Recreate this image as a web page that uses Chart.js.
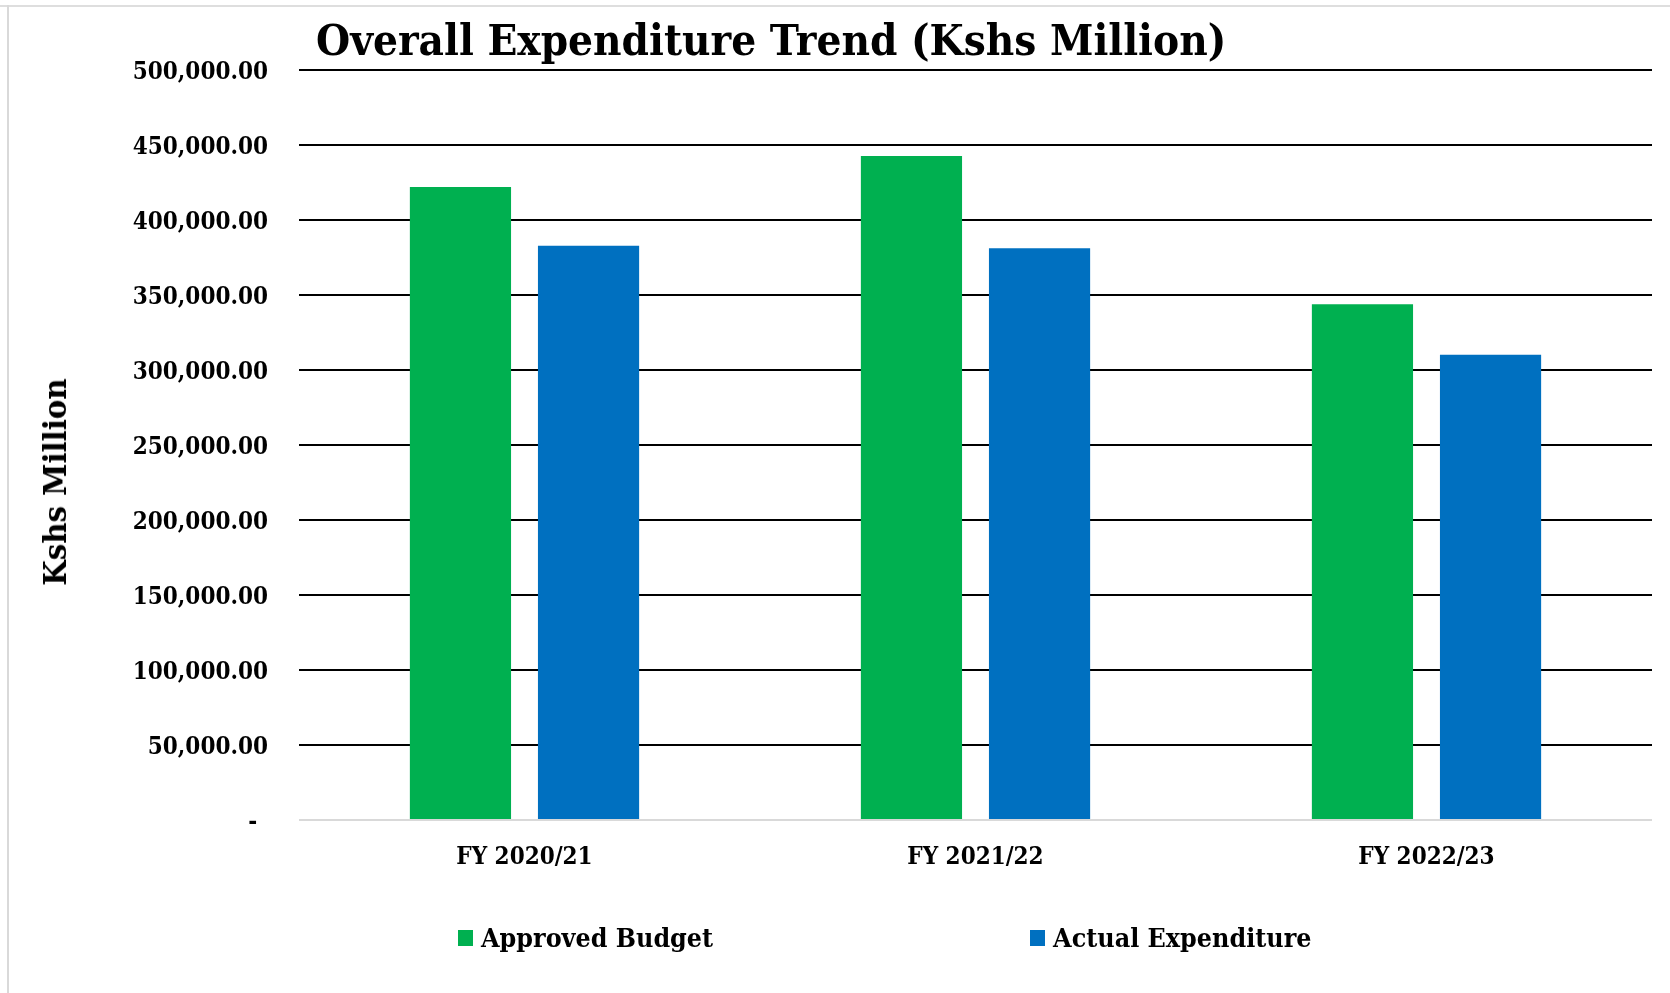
<!DOCTYPE html>
<html>
<head>
<meta charset="utf-8">
<script src="https://cdn.jsdelivr.net/npm/chart.js@4"></script>
<style>
  body { margin: 0; background: #fff; }
  #wrap { position: relative; width: 1670px; height: 993px; overflow: hidden; }
  #myChart { position: absolute; left: 0; top: 0; }
  .serif { font-family: 'DejaVu Serif Condensed', 'DejaVu Serif', serif; font-weight: bold; color: #000; }
  #frameTop { position: absolute; left: 0; top: 5px; width: 1670px; height: 2px; background: #dedede; }
  #frameLeft { position: absolute; left: 7px; top: 5px; width: 2px; height: 988px; background: #d9d9d9; }
  #title { position: absolute; left: 316px; top: 15px; font-size: 43.6px; line-height: 50px; white-space: nowrap; }
  #yTitle { position: absolute; left: 55px; top: 482px; font-size: 32.5px; line-height: 36px; white-space: nowrap;
            transform: translate(-50%, -50%) rotate(-90deg); }
  #legend { position: absolute; left: 458px; top: 922px; display: flex; align-items: center; font-size: 26.6px; line-height: 32px; }
  .item { display: flex; align-items: center; }
  .box { width: 15px; height: 16px; margin-right: 8px; }
</style>
</head>
<body>
<div id="wrap">
  <canvas id="myChart" width="1670" height="993"></canvas>
  <div id="frameTop"></div>
  <div id="frameLeft"></div>
  <div id="title" class="serif">Overall Expenditure Trend (Kshs Million)</div>
  <div id="yTitle" class="serif">Kshs Million</div>
  <div id="legend" class="serif"></div>
</div>
<script>
// datos del grafico
const categories = ["FY 2020/21", "FY 2021/22", "FY 2022/23"];
const approvedBudget = [422000, 442700, 343800];
const actualExpenditure = [382900, 381100, 310200];
const seriesNames = ["Approved Budget", "Actual Expenditure"];
const seriesColors = ["#00B050", "#0070C0"];

const fontFamily = "'DejaVu Serif Condensed', 'DejaVu Serif', serif";

function formatTick(value) {
    if (value === 0) return "-\u2002";
    return value.toLocaleString("en-US", { minimumFractionDigits: 2, maximumFractionDigits: 2 });
}

const config = {
    type: "bar",
    data: {
        labels: categories,
        datasets: [
            { label: seriesNames[0], data: approvedBudget, backgroundColor: seriesColors[0], borderWidth: 0 },
            { label: seriesNames[1], data: actualExpenditure, backgroundColor: seriesColors[1], borderWidth: 0 }
        ]
    },
    options: {
        responsive: false,
        animation: false,
        devicePixelRatio: 1,
        categoryPercentage: 0.568,
        barPercentage: 0.79,
        layout: { padding: { top: 70, right: 18, bottom: 0, left: 0 } },
        plugins: {
            legend: { display: false },
            title: { display: false },
            tooltip: { enabled: false }
        },
        scales: {
            x: {
                grid: { display: false, drawTicks: false },
                border: { display: false },
                ticks: {
                    color: "#000",
                    padding: 23,
                    font: { family: fontFamily, size: 24, weight: "bold" }
                },
                afterFit: (scale) => { scale.height = 173; }
            },
            y: {
                min: 0,
                max: 500000,
                grid: {
                    drawTicks: false,
                    lineWidth: 2,
                    color: (ctx) => ctx.tick && ctx.tick.value === 0 ? "#d9d9d9" : "#000"
                },
                border: { display: false },
                ticks: {
                    stepSize: 50000,
                    color: "#000",
                    padding: 31,
                    labelOffset: 3,
                    font: { family: fontFamily, size: 24, weight: "bold" },
                    callback: (value) => formatTick(value)
                },
                afterFit: (scale) => { scale.width = 299; }
            }
        }
    }
};

const chartDOM = document.getElementById("myChart");
window.grafica = new Chart(chartDOM, config);

// leyenda hecha con los datasets
const legend = document.getElementById("legend");
window.grafica.data.datasets.forEach((ds, i) => {
    const item = document.createElement("div");
    item.className = "item";
    if (i === 0) item.style.marginRight = "317px";
    const box = document.createElement("div");
    box.className = "box";
    box.style.background = ds.backgroundColor;
    const txt = document.createElement("span");
    txt.textContent = ds.label;
    item.appendChild(box);
    item.appendChild(txt);
    legend.appendChild(item);
});
</script>
</body>
</html>
